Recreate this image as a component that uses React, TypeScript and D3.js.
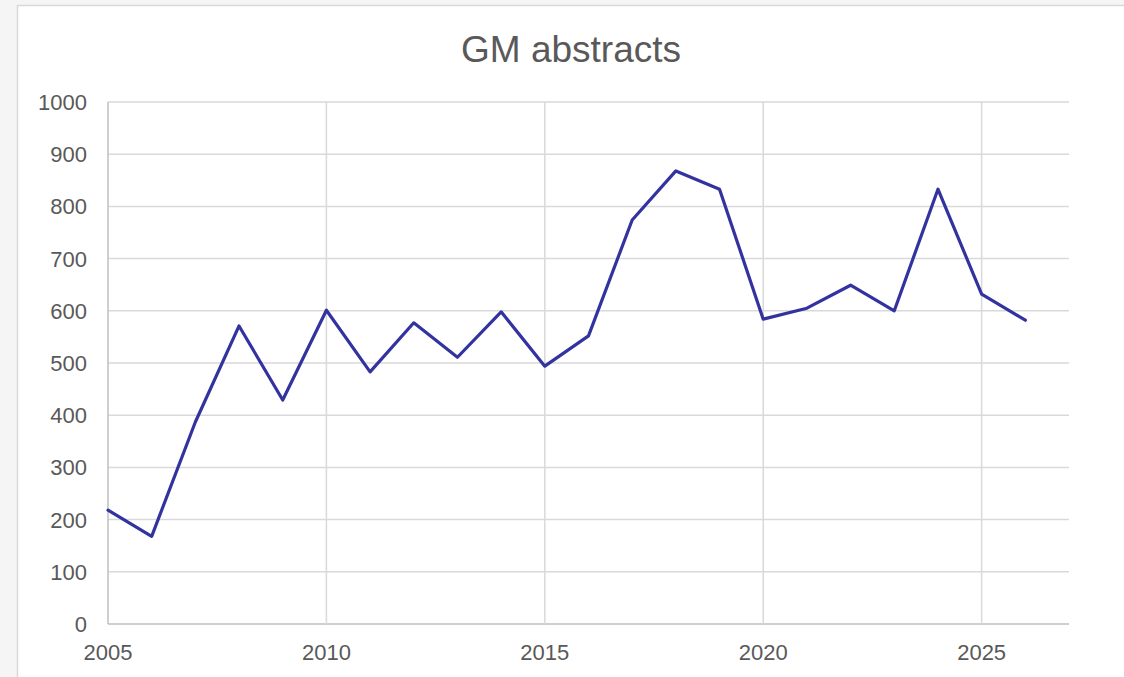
import React, { useEffect, useRef } from "react";
import * as d3 from "d3";

// values
const years = [
  2005, 2006, 2007, 2008, 2009, 2010, 2011, 2012, 2013, 2014, 2015,
  2016, 2017, 2018, 2019, 2020, 2021, 2022, 2023, 2024, 2025, 2026,
];
const abstracts = [
  218, 168, 387, 571, 429, 601, 483, 577, 511, 598, 494,
  552, 774, 868, 833, 584, 605, 649, 600, 833, 632, 582,
];
const yTicks = [0, 100, 200, 300, 400, 500, 600, 700, 800, 900, 1000];
const xTicks = [2005, 2010, 2015, 2020, 2025];

const W = 1124;
const H = 677;
const margin = { top: 102, right: 55, bottom: 53, left: 108 };
const font = "Liberation Sans, Arial, sans-serif";

export default function App() {
  const ref = useRef<SVGSVGElement>(null);

  useEffect(() => {
    const svg = d3.select(ref.current);
    svg.selectAll("*").remove();

    const width = W - margin.left - margin.right;
    const height = H - margin.top - margin.bottom;

    // chart frame
    svg
      .append("rect")
      .attr("x", 17.5)
      .attr("y", 5.5)
      .attr("width", W)
      .attr("height", H)
      .attr("fill", "#ffffff")
      .attr("stroke", "#d9d9d9")
      .attr("stroke-width", 1.5);

    svg
      .append("text")
      .attr("x", 571)
      .attr("y", 62)
      .attr("text-anchor", "middle")
      .attr("font-family", font)
      .attr("font-size", 37)
      .attr("fill", "#595959")
      .text("GM abstracts");

    const g = svg
      .append("g")
      .attr("transform", `translate(${margin.left},${margin.top})`);

    const x = d3.scaleLinear().domain([2005, 2027]).range([0, width]);
    const y = d3.scaleLinear().domain([0, 1000]).range([height, 0]);

    // horizontal grid
    g.selectAll(".hgrid")
      .data(yTicks)
      .enter()
      .append("line")
      .attr("x1", 0)
      .attr("x2", width)
      .attr("y1", (d) => y(d))
      .attr("y2", (d) => y(d))
      .attr("stroke", (d) => (d === 0 ? "#bfbfbf" : "#d9d9d9"))
      .attr("stroke-width", 1.5);

    // vertical grid
    g.selectAll(".vgrid")
      .data(xTicks)
      .enter()
      .append("line")
      .attr("x1", (d) => x(d))
      .attr("x2", (d) => x(d))
      .attr("y1", 0)
      .attr("y2", height)
      .attr("stroke", (d) => (d === 2005 ? "#bfbfbf" : "#d9d9d9"))
      .attr("stroke-width", 1.5);

    // y labels
    g.selectAll(".ylab")
      .data(yTicks)
      .enter()
      .append("text")
      .attr("x", -21)
      .attr("y", (d) => y(d))
      .attr("dy", "0.36em")
      .attr("text-anchor", "end")
      .attr("font-family", font)
      .attr("font-size", 22)
      .attr("fill", "#595959")
      .text((d) => d);

    // x labels
    g.selectAll(".xlab")
      .data(xTicks)
      .enter()
      .append("text")
      .attr("x", (d) => x(d))
      .attr("y", height + 36)
      .attr("text-anchor", "middle")
      .attr("font-family", font)
      .attr("font-size", 22)
      .attr("fill", "#595959")
      .text((d) => d);

    const line = d3
      .line<number>()
      .x((d, i) => x(years[i]))
      .y((d) => y(d));

    g.append("path")
      .datum(abstracts)
      .attr("fill", "none")
      .attr("stroke", "#3333a0")
      .attr("stroke-width", 3.2)
      .attr("stroke-linejoin", "round")
      .attr("stroke-linecap", "round")
      .attr("d", line);
  }, []);

  return (
    <svg
      ref={ref}
      width={W}
      height={H}
      style={{ position: "absolute", left: 0, top: 0, background: "#f5f5f5" }}
    />
  );
}
